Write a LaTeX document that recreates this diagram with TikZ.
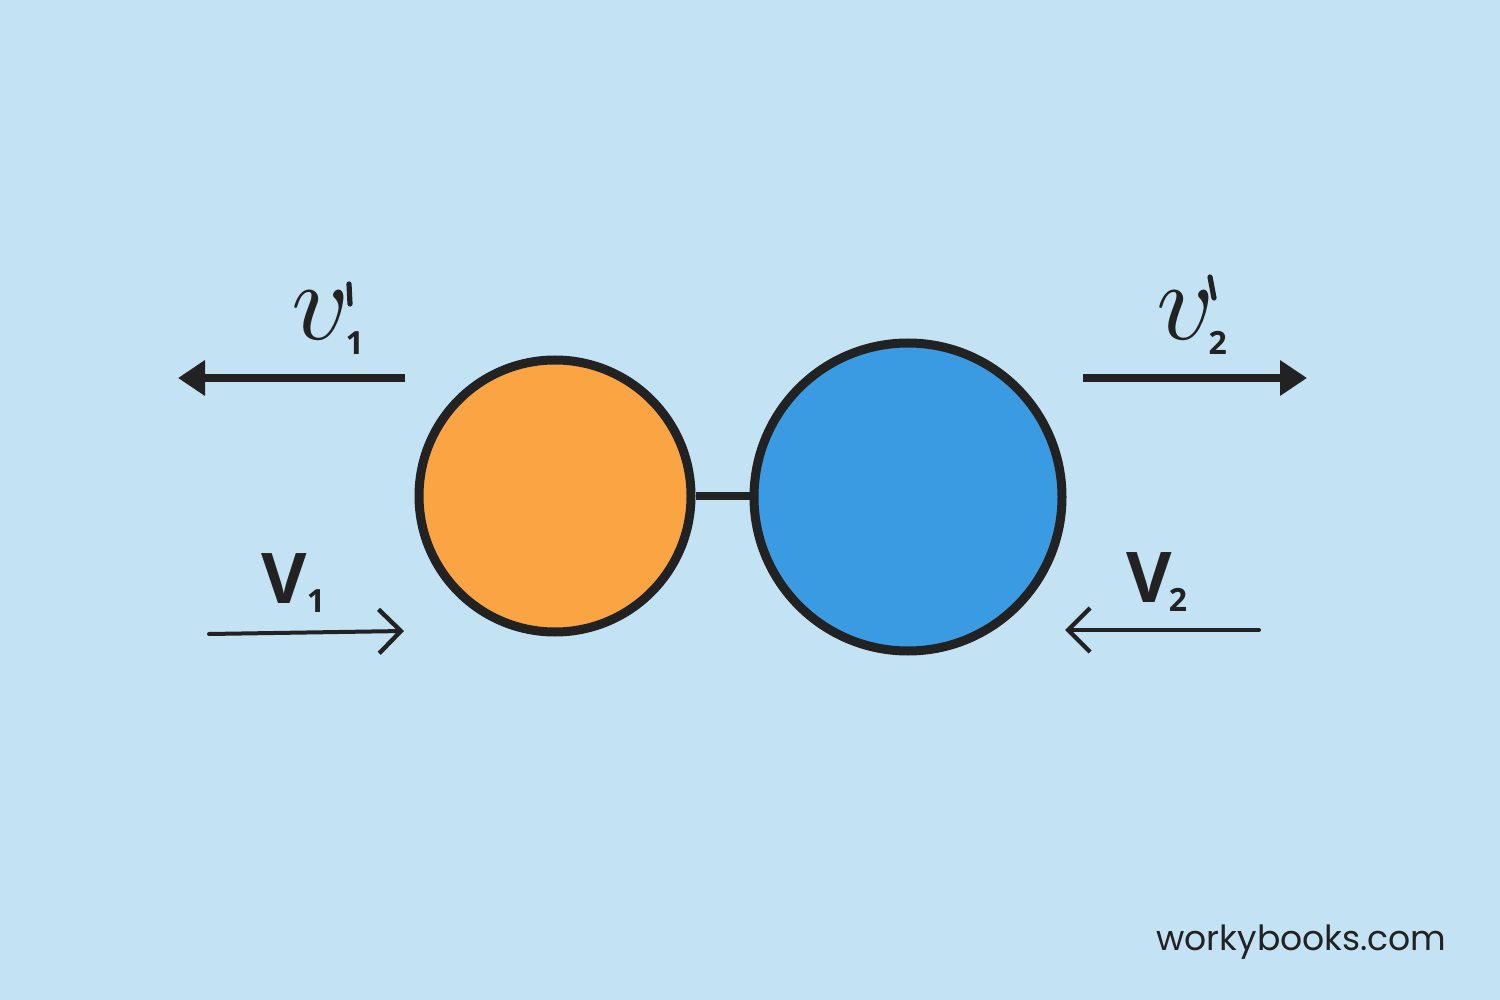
\documentclass[tikz,border=0pt]{standalone}
\usepackage{fontspec}
\setmainfont{Open Sans}
\newfontfamily\wmfont{Poppins}
\newfontfamily\lmmath{Latin Modern Math}
\usetikzlibrary{arrows.meta}
\definecolor{bg}{HTML}{C3E3F4}
\definecolor{ink}{HTML}{222222}
\definecolor{orangeball}{HTML}{FBA443}
\definecolor{blueball}{HTML}{3A9AE2}
\newcommand{\subn}[2]{\raisebox{#1}{\normalfont\bfseries\fontsize{16}{20}\selectfont #2}}
\tikzset{
  ball/.style={circle, draw=ink, line width=4.5pt, inner sep=0pt},
  boldarrow/.style={draw=ink, line width=4pt, -{Triangle[length=13.5pt,width=17pt]}},
  thinarrow/.style={draw=ink, line width=2pt, line cap=round, -{Straight Barb[length=11pt,width=22pt,line width=2.2pt]}},
  vletter/.style={inner sep=0pt, text=ink, anchor=base west, font=\lmmath\fontsize{56}{60}\selectfont},
  primetick/.style={draw=ink, line width=2.6pt, line cap=round},
  bigV/.style={inner sep=0pt, text=ink, anchor=base west, font=\bfseries\fontsize{35}{40}\selectfont},
}
\begin{document}
\begin{tikzpicture}[x=0.5pt, y=-0.5pt]
  \fill[bg] (0,0) rectangle (1500,1000);
  \useasboundingbox (0,0) rectangle (1500,1000);
  % balls
  \node[ball, fill=orangeball, minimum size=136pt] (b1) at (555,496) {};
  \node[ball, fill=blueball, minimum size=154pt] (b2) at (908,497) {};
  \draw[ink, line width=4pt] (b1.east) -- (b1.east -| b2.west);
  % top arrows
  \coordinate (a1s) at (405,378);
  \coordinate (a1e) at (178,378);
  \coordinate (a2s) at (1083,378);
  \coordinate (a2e) at (1307,378);
  \draw[boldarrow] (a1s) -- (a1e);
  \draw[boldarrow] (a2s) -- (a2e);
  % bottom arrows
  \coordinate (c1s) at (209,634);
  \coordinate (c1e) at (404,631);
  \coordinate (c2s) at (1259,630);
  \coordinate (c2e) at (1065,630);
  \draw[thinarrow] (c1s) -- (c1e);
  \draw[thinarrow] (c2s) -- (c2e);
  % v'_1
  \node[vletter] (v1) at (291,340) {𝑣\subn{-7.5pt}{1}};
  \coordinate (p1a) at (349,284);
  \coordinate (p1b) at (350,304);
  \draw[primetick] (p1a) -- (p1b);
  % v'_2
  \node[vletter] (v2) at (1156,340) {𝑣\kern-1pt\subn{-7.5pt}{2}};
  \coordinate (p2a) at (1210,277);
  \coordinate (p2b) at (1214,298);
  \draw[primetick] (p2a) -- (p2b);
  % V_1, V_2
  \node[bigV] (V1) at (261,603) {V\subn{-4.5pt}{1}};
  \node[bigV] (V2) at (1126,602) {V\kern-1.5pt\subn{-4.5pt}{2}};
  \node[inner sep=0pt, anchor=east, text=ink, font=\wmfont\fontsize{17.3}{20}\selectfont] (wm) at (1447,942) {workybooks.com};
\end{tikzpicture}
\end{document}
